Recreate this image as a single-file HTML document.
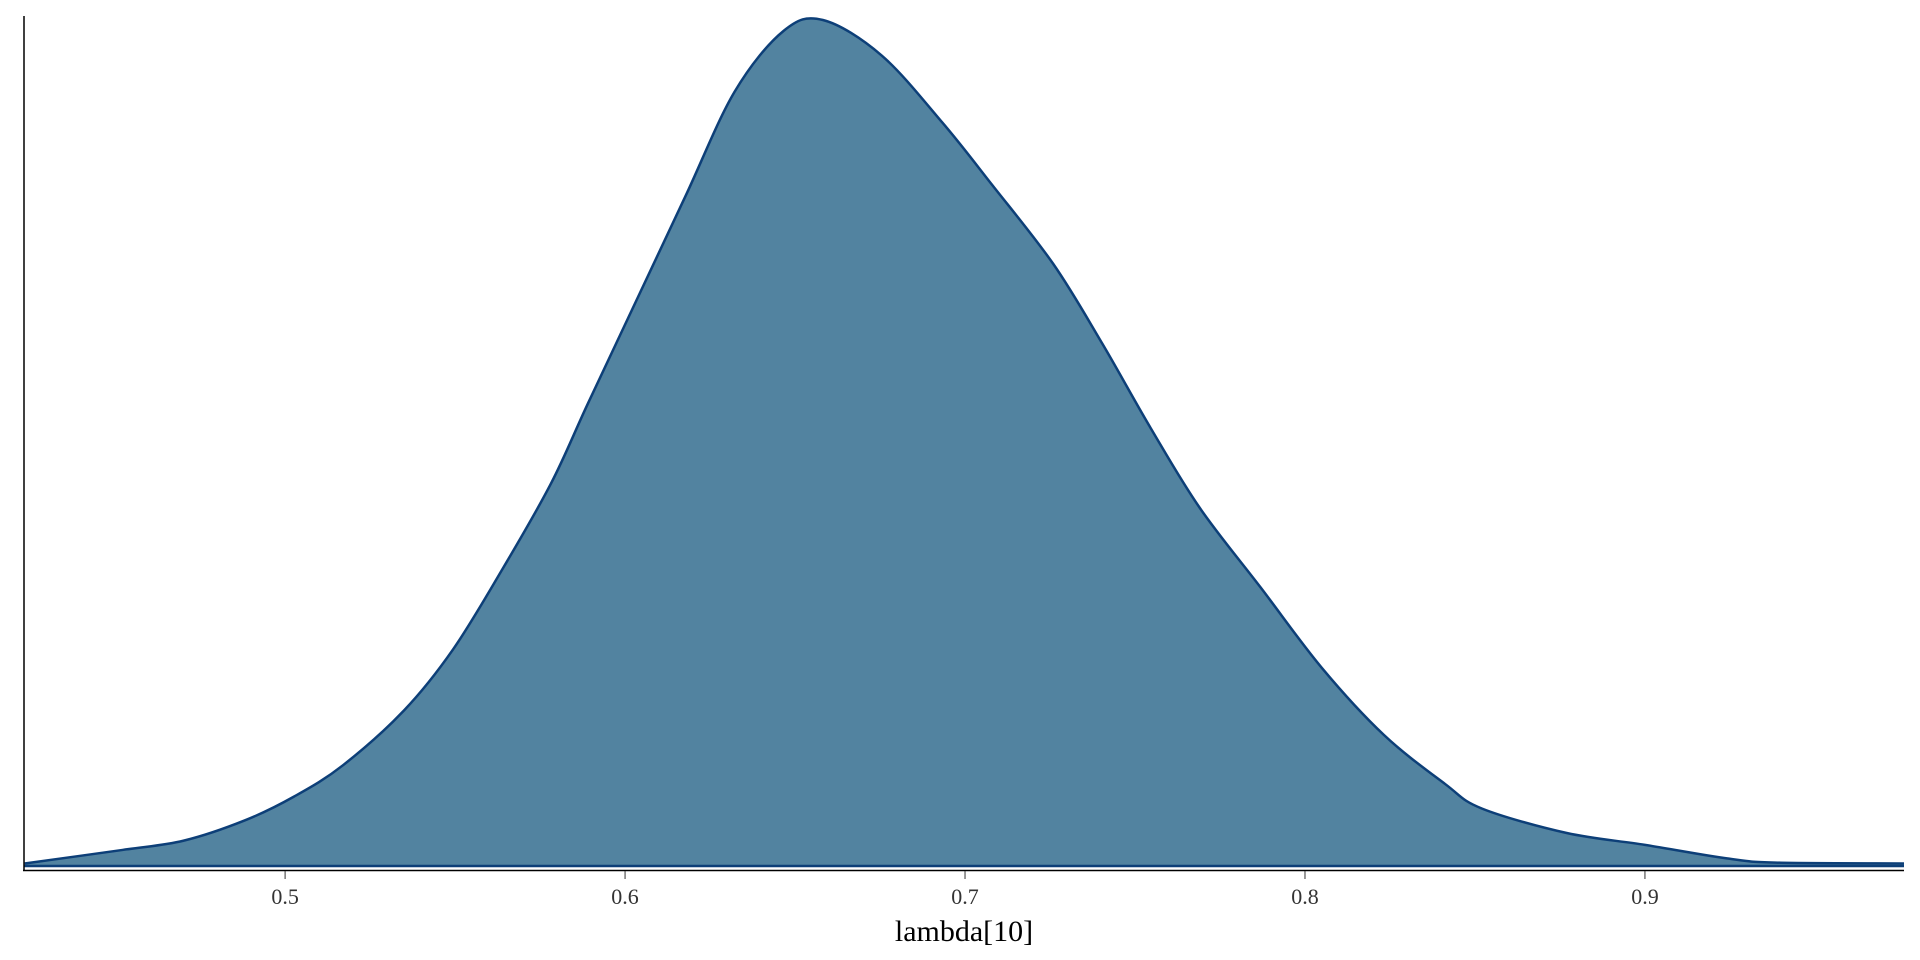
<!DOCTYPE html>
<html><head><meta charset="utf-8">
<style>
html,body{margin:0;padding:0;background:#fff;}
svg{display:block;}
text{font-family:"Liberation Serif",serif;}
</style></head>
<body>
<svg id="chart" width="1920" height="960">
  <g id="plot"></g>
</svg>
<script>
const xs = [0.4234,0.4522,0.4702,0.4882,0.5026,0.517,0.535,0.5494,0.5638,0.5782,0.589,0.6034,0.6178,0.6322,0.6466,0.6582,0.6755,0.6935,0.7078,0.7259,0.7403,0.7547,0.7691,0.787,0.805,0.8232,0.8412,0.852,0.877,0.9,0.9241,0.9385,0.9762];
const ys = [0.003,0.019,0.030,0.054,0.082,0.119,0.184,0.256,0.350,0.452,0.546,0.669,0.792,0.915,0.987,1,0.958,0.878,0.806,0.712,0.618,0.517,0.423,0.329,0.234,0.155,0.097,0.068,0.039,0.025,0.009,0.004,0.003];
const tickValues = [0.5,0.6,0.7,0.8,0.9];
const tickLabels = ["0.5","0.6","0.7","0.8","0.9"];

const X0 = 0.4232, X1 = 0.9762, PX0 = 24, PX1 = 1904;
const BASE = 866, TOP = 20;
const sx = v => PX0 + (v - X0) / (X1 - X0) * (PX1 - PX0);
const sy = v => BASE - v * (BASE - TOP);
const NS = "http://www.w3.org/2000/svg";
const plot = document.getElementById('plot');

const pts = xs.map((x,i)=>[sx(x), sy(ys[i])]);
let d = `M${pts[0][0]},${pts[0][1]}`;
for (let i=0;i<pts.length-1;i++){
  const p0=pts[Math.max(0,i-1)], p1=pts[i], p2=pts[i+1], p3=pts[Math.min(pts.length-1,i+2)];
  const c1=[p1[0]+(p2[0]-p0[0])/6, p1[1]+(p2[1]-p0[1])/6];
  const c2=[p2[0]-(p3[0]-p1[0])/6, p2[1]-(p3[1]-p1[1])/6];
  d += ` C${c1[0]},${c1[1]} ${c2[0]},${c2[1]} ${p2[0]},${p2[1]}`;
}
const area = document.createElementNS(NS,'path');
area.setAttribute('d', d + ` L${pts[pts.length-1][0]},${BASE} L${pts[0][0]},${BASE} Z`);
area.setAttribute('fill','#5283a0');


plot.appendChild(area);
const line = document.createElementNS(NS,'path');
line.setAttribute('d', d);
line.setAttribute('fill','none');
line.setAttribute('stroke','#0d3f78');
line.setAttribute('stroke-width','2.5');


plot.appendChild(line);
const base = document.createElementNS(NS,'line');
base.setAttribute('x1',PX0); base.setAttribute('x2',PX1);
base.setAttribute('y1',BASE); base.setAttribute('y2',BASE);
base.setAttribute('stroke','#0d3f78'); base.setAttribute('stroke-width','2.5');


plot.appendChild(base);

const xa = document.createElementNS(NS,'line');
xa.setAttribute('x1',PX0-1); xa.setAttribute('x2',PX1);
xa.setAttribute('y1',870.5); xa.setAttribute('y2',870.5);
xa.setAttribute('stroke','#000'); xa.setAttribute('stroke-width','1.5');


plot.appendChild(xa);
const ya = document.createElementNS(NS,'line');
ya.setAttribute('x1',24); ya.setAttribute('x2',24);
ya.setAttribute('y1',16); ya.setAttribute('y2',871);
ya.setAttribute('stroke','#000'); ya.setAttribute('stroke-width','1.5');


plot.appendChild(ya);

tickValues.forEach((v,i)=>{
  const t = document.createElementNS(NS,'line');
  t.setAttribute('x1',sx(v)); t.setAttribute('x2',sx(v));
  t.setAttribute('y1',871); t.setAttribute('y2',879);
  t.setAttribute('stroke','#333'); t.setAttribute('stroke-width','1');
  
  
  plot.appendChild(t);
  const l = document.createElementNS(NS,'text');
  l.setAttribute('x',sx(v)); l.setAttribute('y',904);
  l.setAttribute('text-anchor','middle'); l.setAttribute('font-size','22');
  l.setAttribute('fill','#333');
  l.textContent = tickLabels[i];
  
  
  plot.appendChild(l);
});
const title = document.createElementNS(NS,'text');
title.setAttribute('x',(PX0+PX1)/2); title.setAttribute('y',941);
title.setAttribute('text-anchor','middle'); title.setAttribute('font-size','30');
title.setAttribute('fill','#000');
title.textContent = 'lambda[10]';


plot.appendChild(title);
</script>
</body></html>
